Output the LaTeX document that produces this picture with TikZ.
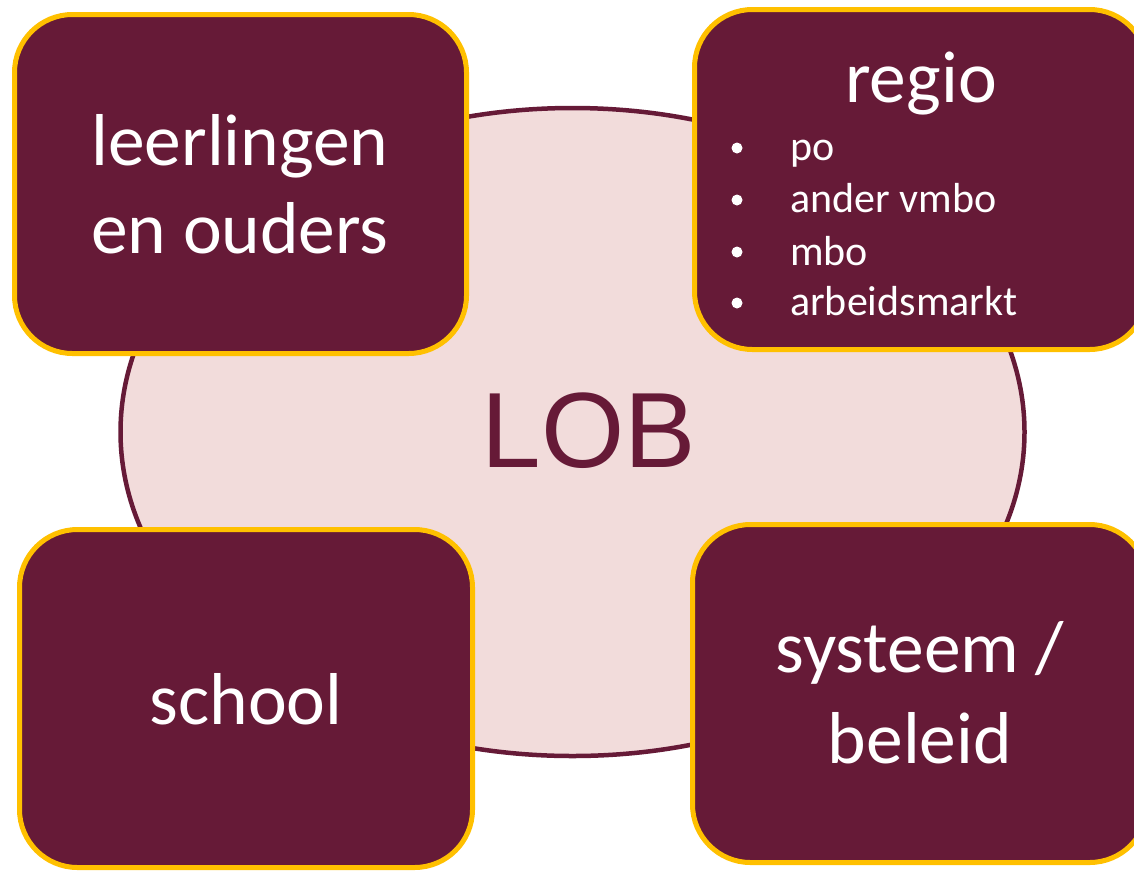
\documentclass[tikz,border=0pt]{standalone}
\usepackage{fontspec}
\setmainfont{Carlito}
\newfontfamily\lobfont{Liberation Sans}
\usetikzlibrary{shapes.geometric}
\definecolor{maroon}{RGB}{102,26,55}
\definecolor{pinkfill}{RGB}{242,220,219}
\definecolor{goldline}{RGB}{255,192,0}
\tikzset{
  boxstyle/.style={draw=goldline, line width=5pt, fill=maroon, rounded corners=58pt, rectangle, inner sep=0pt},
  bigtext/.style={text=white, anchor=base, inner sep=0pt, font=\fontsize{73.5}{88}\selectfont},
  smalltext/.style={text=white, anchor=base west, inner sep=0pt, font=\fontsize{42}{50}\selectfont},
  bulletdot/.style={circle, fill=white, inner sep=0pt, minimum size=11pt},
}
\begin{document}
\begin{tikzpicture}[x=1pt,y=-1pt]
\useasboundingbox (0,0) rectangle (1134,871);
\node[ellipse, draw=maroon, line width=4.5pt, fill=pinkfill, minimum width=904pt, minimum height=648pt, inner sep=0pt] (lob) at (572.5,432) {};
\node[text=maroon, anchor=base, inner sep=0pt, font=\lobfont\fontsize{107}{120}\selectfont] (lobtext) at (589,467) {LOB};

\node[boxstyle, minimum width=452pt, minimum height=339pt] (tl) at (240.5,184) {};
\node[boxstyle, minimum width=453pt, minimum height=340pt] (tr) at (921,179.5) {};
\node[boxstyle, minimum width=453pt, minimum height=338pt] (bl) at (246,698.5) {};
\node[boxstyle, minimum width=455pt, minimum height=338pt] (br) at (920,693.5) {};

\node[bigtext] (t1) at (240,165) {leerlingen};
\node[bigtext] (t2) at (240,253) {en ouders};
\node[bigtext] (t3) at (921,102) {regio};
\node[bigtext] (t4) at (246,724) {school};
\node[bigtext] (t5) at (920,672) {systeem /};
\node[bigtext] (t6) at (920,763) {beleid};

\node[bulletdot] (b1) at (737,148) {};
\node[bulletdot] (b2) at (737,200) {};
\node[bulletdot] (b3) at (737,252) {};
\node[bulletdot] (b4) at (737,303) {};
\node[smalltext] (l1) at (790,160) {po};
\node[smalltext] (l2) at (790,212) {ander vmbo};
\node[smalltext] (l3) at (790,265) {mbo};
\node[smalltext] (l4) at (790,315) {arbeidsmarkt};
\end{tikzpicture}
\end{document}
